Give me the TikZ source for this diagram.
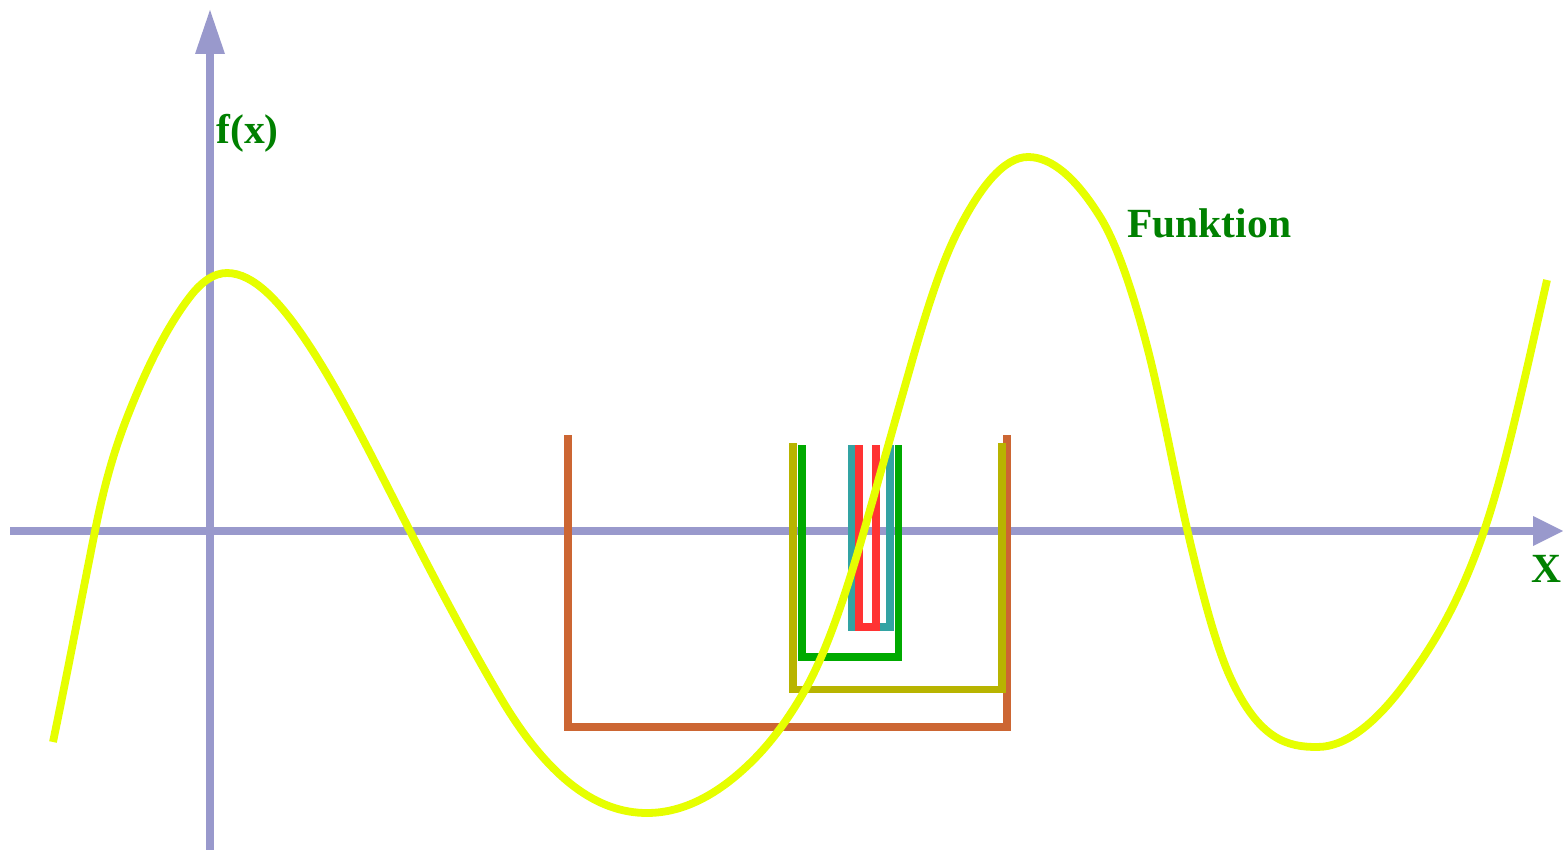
\documentclass[tikz,border=0pt]{standalone}
\usepackage{fontspec}
\setmainfont{Liberation Serif}
\definecolor{axiscol}{HTML}{9999CC}
\definecolor{curvecol}{HTML}{E6FF00}
\definecolor{labelcol}{HTML}{008000}
\definecolor{orangecol}{HTML}{CC6633}
\definecolor{olivecol}{HTML}{B8B400}
\definecolor{greencol}{HTML}{00AA00}
\definecolor{tealcol}{HTML}{33A3A3}
\definecolor{redcol}{HTML}{FF3333}
\tikzset{
  axisline/.style={draw=axiscol, line width=3.9pt},
  axishead/.style={fill=axiscol, draw=none},
  bracketline/.style={line width=3.7pt, miter limit=10},
  curveline/.style={draw=curvecol, line width=3.9pt},
  lbl/.style={text=labelcol, font=\fontsize{20.75}{24}\selectfont\bfseries, inner sep=0pt, anchor=base west}
}
\begin{document}
\begin{tikzpicture}[x=0.5pt, y=-0.5pt]
\useasboundingbox (0,0) rectangle (1563,850);
% axes
\coordinate (xs) at (10,531);
\coordinate (xb) at (1534,531);
\coordinate (xt) at (1563,531);
\coordinate (ys) at (210,850);
\coordinate (yb) at (210,54);
\coordinate (yt) at (210,10);
\draw[axisline] (xs) -- (xb);
\draw[axisline] (ys) -- (yb);
\fill[axishead] (xt) -- (1533,516) -- (1533,546) -- cycle;
\fill[axishead] (yt) -- (195,54) -- (225,54) -- cycle;
% brackets
\draw[bracketline, draw=orangecol] (568,435) -- (568,727) -- (1007,727) -- (1007,435);
\draw[bracketline, draw=olivecol] (793,443) -- (793,689.5) -- (1002,689.5) -- (1002,443);
\draw[bracketline, draw=greencol] (802,445) -- (802,657) -- (898.5,657) -- (898.5,445);
\draw[bracketline, draw=tealcol] (852,445) -- (852,627) -- (890,627) -- (890,445);
\draw[bracketline, draw=redcol] (859,445) -- (859,627) -- (876,627) -- (876,445);
% curve
\draw[curveline] (53,742)
  .. controls (67,674.8) and (81,601) .. (95,531)
  .. controls (106.67,472.7) and (118.33,439.2) .. (130,410)
  .. controls (150,360) and (170,322.7) .. (190,296.7)
  .. controls (202.33,280.67) and (214.67,273) .. (227,273)
  .. controls (253.57,273) and (280.13,301.85) .. (306.7,341.7)
  .. controls (341.13,393.35) and (375.57,463.86) .. (410,531)
  .. controls (440,589.5) and (470,645.7) .. (500,696.7)
  .. controls (549,780) and (598,813) .. (647,813)
  .. controls (682.43,813) and (717.87,795.43) .. (753.3,760)
  .. controls (770.53,742.77) and (787.77,720.16) .. (805,690)
  .. controls (824.43,656) and (843.87,601.3) .. (863.3,533.3)
  .. controls (879.97,474.97) and (896.63,415.03) .. (913.3,356.7)
  .. controls (927.77,306.07) and (942.23,262.23) .. (956.7,233.3)
  .. controls (980.47,185.77) and (1004.23,157) .. (1028,157)
  .. controls (1052,157) and (1076,178.3) .. (1100,216.7)
  .. controls (1115.57,241.6) and (1131.13,285.8) .. (1146.7,345)
  .. controls (1160.47,397.3) and (1174.23,473.8) .. (1188,533)
  .. controls (1202,593.2) and (1216,645.9) .. (1230,676.7)
  .. controls (1259,740.5) and (1288,747) .. (1317,747)
  .. controls (1348,747) and (1379,720.1) .. (1410,676.7)
  .. controls (1434.67,642.2) and (1459.33,602.5) .. (1484,531)
  .. controls (1505,470.1) and (1526,372.4) .. (1547,280);
% labels
\node[lbl] (fx) at (216,144) {f(x)};
\node[lbl] (fn) at (1127,238) {Funktion};
\node[lbl] (xl) at (1531,582) {X};
\end{tikzpicture}
\end{document}
